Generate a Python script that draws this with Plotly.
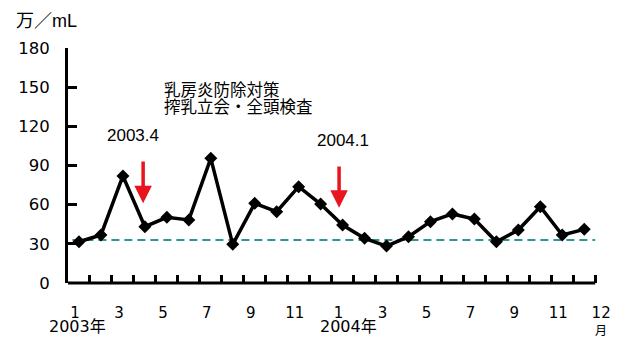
import plotly.graph_objects as go

# Monthly bulk-tank somatic cell count (10,000 cells / mL), Jan 2003 - Dec 2004
scc_2003 = [31.6, 36.8, 82.0, 43.1, 50.3, 48.3, 95.5, 29.6, 61.0, 54.6, 73.8, 60.5]
scc_2004 = [44.4, 34.2, 28.3, 35.5, 47.0, 52.9, 49.0, 31.6, 40.6, 58.4, 36.8, 41.1]
month_labels = ["1", "3", "5", "7", "9", "11", "1", "3", "5", "7", "9", "11", "12"]
year_labels = ["2003年", "2004年"]
baseline = 33
y_ticks = [0, 30, 60, 90, 120, 150, 180]

scc = scc_2003 + scc_2004
idx = list(range(len(scc)))

NUM_FONT = "DejaVu Sans"
JP_FONT = "Noto Sans CJK JP"

fig = go.Figure()
fig.add_trace(go.Scatter(
    x=idx, y=scc, mode="lines+markers",
    line=dict(color="black", width=3.5),
    marker=dict(symbol="diamond", size=10, color="black"),
    showlegend=False, hoverinfo="skip",
))

# tick label positions: odd months of each year plus the closing month
label_pos = [i - 0.18 for i in range(0, 24, 2)] + [23.77]

fig.update_layout(
    width=623, height=338,
    margin=dict(l=68, r=17, t=48, b=55),
    paper_bgcolor="white", plot_bgcolor="white",
    font=dict(family=NUM_FONT, color="black"),
    xaxis=dict(
        range=[-0.5, 23.9], showgrid=False, zeroline=False, showline=False,
        tickmode="array", tickvals=label_pos, ticktext=month_labels,
        ticks="", tickfont=dict(family=NUM_FONT, size=15, color="black"),
        ticklabelstandoff=19,
        minor=dict(tickmode="array", tickvals=[i + 0.5 for i in range(24)],
                   ticks="inside", ticklen=8, tickwidth=2.5, tickcolor="black"),
    ),
    yaxis=dict(
        range=[0, 180], showgrid=False, zeroline=False,
        showline=True, linecolor="black", linewidth=3,
        tickmode="array", tickvals=y_ticks,
        ticks="inside", ticklen=9, tickwidth=3, tickcolor="black",
        tickfont=dict(family=NUM_FONT, size=16.5, color="black"),
        ticklabelstandoff=12,
    ),
)

# bottom axis line ends at the last month boundary
fig.add_shape(type="line", xref="x", yref="paper", x0=-0.5, x1=23.5, y0=0, y1=0,
              line=dict(color="black", width=3), layer="above")
# reference level
fig.add_shape(type="line", xref="x", yref="y", x0=-0.3, x1=23.5, y0=baseline, y1=baseline,
              line=dict(color="#2E9494", width=2, dash="8px,5px"), layer="below")

# intervention arrows
for tip_x, tip_y, tail_y in [(2.92, 61, 94.2), (11.84, 57.7, 90.4)]:
    fig.add_annotation(x=tip_x, y=tip_y, ax=tip_x, ay=tail_y, axref="x", ayref="y",
                       xref="x", yref="y", text="", showarrow=True,
                       arrowhead=2, arrowsize=1.0, arrowwidth=3.5, arrowcolor="#E8141E",
                       standoff=0)


def label(x, y, text, font, xref="x", yref="y", xanchor="center"):
    fig.add_annotation(x=x, y=y, xref=xref, yref=yref, text=text, showarrow=False,
                       xanchor=xanchor, yanchor="middle", borderpad=0, font=font)


label(2.45, 112.8, "2003.4", dict(family="Liberation Sans", size=17, color="black"))
label(12.04, 109.5, "2004.1", dict(family="Liberation Sans", size=17, color="black"))
label(3.81, 148.8, "乳房炎防除対策", dict(family=JP_FONT, size=16.5, color="black"), xanchor="left")
label(3.81, 135.4, "搾乳立会・全頭検査", dict(family=JP_FONT, size=16.5, color="black"), xanchor="left")

# unit labels
label(-0.0409, 1.116, "万／mL", dict(family="Liberation Sans, " + JP_FONT, size=18, color="black"),
      xref="paper", yref="paper")
label(-0.05, -0.187, year_labels[0], dict(family=NUM_FONT + ", " + JP_FONT, size=16, color="black"),
      yref="paper")
label(12.29, -0.187, year_labels[1], dict(family=NUM_FONT + ", " + JP_FONT, size=16, color="black"),
      yref="paper")
label(23.76, -0.196, "月", dict(family=JP_FONT, size=12, color="black"), yref="paper")

fig.write_html("out.html")
